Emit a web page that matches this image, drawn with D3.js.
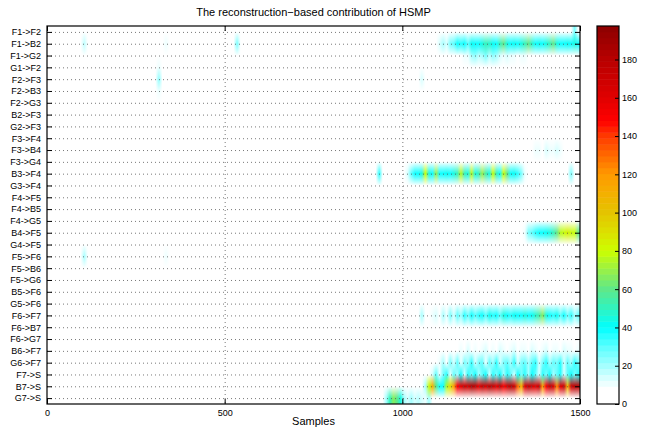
<!DOCTYPE html>
<html>
<head>
<meta charset="utf-8">
<script src="https://cdn.jsdelivr.net/npm/d3@7"></script>
<style>
  body { margin: 0; background: #fff; }
  svg { display: block; }
  text { font-family: "Liberation Sans", Arial, sans-serif; fill: #000; }
</style>
</head>
<body>
<script>
// row labels, top to bottom
const rowLabels = [
  'F1->F2', 'F1->B2', 'F1->G2', 'G1->F2', 'F2->F3', 'F2->B3', 'F2->G3', 'B2->F3',
  'G2->F3', 'F3->F4', 'F3->B4', 'F3->G4', 'B3->F4', 'G3->F4', 'F4->F5', 'F4->B5',
  'F4->G5', 'B4->F5', 'G4->F5', 'F5->F6', 'F5->B6', 'F5->G6', 'B5->F6', 'G5->F6',
  'F6->F7', 'F6->B7', 'F6->G7', 'B6->F7', 'G6->F7', 'F7->S', 'B7->S', 'G7->S'
];
const xTicks = [0, 500, 1000, 1500];
const cbTicks = [0, 20, 40, 60, 80, 100, 120, 140, 160, 180];
const binSize = 10;   // samples per value below
const vMax = 197.5;

// contributions, one value per 10 samples from the start sample
const f1b2 = [8, 15, 20, 15, 25, 30, 40, 35, 40, 30, 42, 38, 40, 45, 50, 48, 42, 40, 50, 60,
  45, 40, 42, 38, 45, 50, 60, 48, 40, 42, 38, 45, 50, 60, 45, 40, 38, 42, 40, 45, 40];
const f1g2 = [5, 8, 10, 12, 20, 22, 18, 20, 25, 18, 22, 20, 15, 12, 15, 10, 12, 8, 12, 10, 8, 5, 8, 6, 4];
const b3f4 = [15, 30, 40, 38, 45, 80, 45, 40, 70, 40, 38, 42, 40, 45, 50, 75, 50, 45, 75, 45,
  50, 70, 55, 45, 80, 50, 40, 80, 60, 40, 42, 35, 25, 10];
const f3b4 = [6, 10, 12, 8, 14, 10, 12, 15, 10, 8];
const b4f5 = [10, 25, 30, 35, 40, 38, 42, 45, 50, 60, 75, 80, 85, 80, 78, 60];
const f6f7 = [20, 5, 0, 10, 15, 5, 20, 10, 25, 15, 30, 20, 35, 25, 40, 30, 35, 40, 30, 42,
  35, 38, 30, 45, 40, 35, 42, 38, 40, 45, 40, 42, 48, 55, 65, 45, 40, 35, 42, 30, 38, 25, 35, 20, 30];
const b6f7 = [8, 12, 5, 15, 8, 12, 5, 10, 15, 8, 12, 5, 15, 10, 8, 12, 15, 5, 10, 12,
  8, 15, 10, 5, 12, 15, 8, 10, 12, 5, 15, 10, 12, 8, 10];
const g6f7 = [10, 20, 5, 25, 15, 30, 10, 25, 20, 35, 15, 25, 30, 10, 28, 20, 35, 15, 25, 30,
  20, 35, 15, 25, 30, 20, 30, 35, 15, 25, 35, 20, 30, 25, 35, 15, 30, 20, 35, 25];
const f7s = [15, 30, 10, 25, 35, 10, 30, 20, 40, 15, 35, 25, 40, 20, 30, 38, 15, 35, 25, 40,
  20, 35, 30, 15, 38, 25, 35, 20, 40, 30, 15, 35, 25, 40, 20, 30, 35, 15, 30, 40, 25, 35];
const b7s = [20, 80, 110, 60, 40, 38, 75, 90, 120, 150, 160, 170, 165, 185, 175, 160, 175, 165, 180, 170,
  160, 175, 150, 165, 180, 170, 130, 110, 160, 175, 165, 160, 175, 120, 150, 170, 165, 125, 160, 170,
  110, 165, 180, 175];
const g7s = [20, 50, 65, 60, 45, 20, 15, 20, 15, 18, 15, 10, 20, 8];

// isolated short spikes: [row, sample, value]
const spikes = [
  ['F1->F2', 1480, 25], ['F1->B2', 45, 6], ['F1->B2', 100, 18], ['F1->B2', 330, 10],
  ['F1->B2', 530, 25], ['F1->B2', 680, 8], ['F2->F3', 30, 6], ['F2->F3', 310, 22],
  ['G1->F2', 310, 10], ['F2->B3', 310, 10], ['F2->F3', 1050, 15], ['B3->F4', 90, 6],
  ['B3->F4', 510, 8], ['B3->F4', 930, 35], ['B3->F4', 1470, 25], ['B4->F5', 160, 5],
  ['F5->F6', 45, 6], ['F5->F6', 100, 20], ['F5->F6', 330, 10], ['F6->F7', 200, 6]
];

const bands = [
  ['F1->B2', 1090, f1b2], ['F1->G2', 1150, f1g2], ['B3->F4', 1010, b3f4],
  ['F3->B4', 1360, f3b4], ['B4->F5', 1340, b4f5], ['F6->F7', 1050, f6f7],
  ['B6->F7', 1150, b6f7], ['G6->F7', 1100, g6f7], ['F7->S', 1080, f7s],
  ['B7->S', 1060, b7s], ['G7->S', 950, g7s]
];

const width = 649, height = 429;
const x = d3.scaleLinear().domain([0, 1500]).range([47, 580]);
const y = d3.scaleLinear().domain([-0.5, rowLabels.length - 0.5]).range([26, 404]);
const cy = d3.scaleLinear().domain([0, vMax]).range([404, 26]);

// white-to-jet like colour map, 64 levels
const stops = d3.scaleLinear()
  .domain([0, 8, 12, 20, 30, 40, 50, 60, 70, 80, 90, 100, 110, 120, 130, 140, 148, 160, 180, 197.5])
  .range(['#ffffff', '#ffffff', '#e6ffff', '#a6ffff', '#5cffff', '#00ffff', '#30f4c0', '#5ee88a',
    '#98f048', '#ccff00', '#dce000', '#e4c400', '#f4b000', '#ff9a00', '#ff6a00', '#ff3a00',
    '#ff0000', '#e00000', '#b80000', '#8c0000'])
  .interpolate(d3.interpolateRgb);
const nLevels = 64;
function colorOf(v) {
  const lev = Math.max(0, Math.min(nLevels - 1, Math.floor(v / vMax * nLevels)));
  return stops((lev + 0.5) / nLevels * vMax);
}

// value grid
const nBins = 1500 / binSize;
const grid = rowLabels.map(() => new Array(nBins).fill(0));
bands.forEach(([lab, start, vals]) => {
  const r = rowLabels.indexOf(lab);
  vals.forEach((v, i) => { grid[r][start / binSize + i] = v; });
});
spikes.forEach(([lab, s, v]) => {
  const r = rowLabels.indexOf(lab);
  const b = Math.floor(s / binSize);
  grid[r][b] = Math.max(grid[r][b], v);
});
const rgb = grid.map(row => row.map(v => d3.rgb(colorOf(v))));

const svg = d3.select('body').append('svg')
  .attr('width', width)
  .attr('height', height);

// heat map image, colours blended between rows and between bins
const x0 = x.range()[0], y0 = y.range()[0];
const pw = Math.round(x.range()[1] - x0), ph = Math.round(y.range()[1] - y0);
const canvas = document.createElement('canvas');
canvas.width = pw; canvas.height = ph;
const ctx = canvas.getContext('2d');
const img = ctx.createImageData(pw, ph);
const nRows = rowLabels.length;
function rowColor(r, fb) {
  let b0 = Math.floor(fb), t = fb - b0;
  if (b0 < 0) { b0 = 0; t = 0; }
  if (b0 >= nBins - 1) { b0 = nBins - 1; t = 0; }
  const a = rgb[r][b0], c = rgb[r][Math.min(nBins - 1, b0 + 1)];
  return [a.r + (c.r - a.r) * t, a.g + (c.g - a.g) * t, a.b + (c.b - a.b) * t];
}
for (let px = 0; px < pw; px++) {
  const s = x.invert(x0 + px + 0.5);
  const fb = s / binSize - 0.5;
  const cols = [];
  for (let r = 0; r < nRows; r++) cols.push(rowColor(r, fb));
  for (let py = 0; py < ph; py++) {
    let fr = y.invert(y0 + py + 0.5);
    fr = Math.max(0, Math.min(nRows - 1, fr));
    const r0 = Math.min(nRows - 2, Math.floor(fr)), t = fr - r0;
    const a = cols[r0], c = cols[r0 + 1];
    const k = (py * pw + px) * 4;
    img.data[k] = a[0] + (c[0] - a[0]) * t;
    img.data[k + 1] = a[1] + (c[1] - a[1]) * t;
    img.data[k + 2] = a[2] + (c[2] - a[2]) * t;
    img.data[k + 3] = 255;
  }
}
ctx.putImageData(img, 0, 0);
svg.append('image')
  .attr('x', x0).attr('y', y0)
  .attr('width', pw).attr('height', ph)
  .attr('preserveAspectRatio', 'none')
  .attr('href', canvas.toDataURL());

// dotted grid
const gridG = svg.append('g')
  .attr('stroke', '#555')
  .attr('stroke-width', 0.8)
  .attr('stroke-dasharray', '1,3');
gridG.selectAll('line.h').data(d3.range(nRows)).enter()
  .append('line')
  .attr('x1', x0).attr('x2', x.range()[1])
  .attr('y1', d => y(d) + 0.5).attr('y2', d => y(d) + 0.5);
gridG.selectAll('line.v').data([500, 1000]).enter()
  .append('line')
  .attr('x1', d => x(d) + 0.5).attr('x2', d => x(d) + 0.5)
  .attr('y1', y0).attr('y2', y.range()[1]);

// axes
const axLeft = svg.append('g').attr('transform', `translate(${x0},0)`)
  .call(d3.axisLeft(y).tickValues(d3.range(nRows)).tickFormat(i => rowLabels[i])
    .tickSize(-5).tickPadding(6));
const axRight = svg.append('g').attr('transform', `translate(${x.range()[1]},0)`)
  .call(d3.axisRight(y).tickValues(d3.range(nRows)).tickFormat('').tickSize(-5));
const axBottom = svg.append('g').attr('transform', `translate(0,${y.range()[1]})`)
  .call(d3.axisBottom(x).tickValues(xTicks).tickFormat(d3.format('d')).tickSize(-5).tickPadding(6));
const axTop = svg.append('g').attr('transform', `translate(0,${y0})`)
  .call(d3.axisTop(x).tickValues(xTicks).tickFormat('').tickSize(-5));
[axLeft, axRight, axBottom, axTop].forEach(g => {
  g.select('.domain').remove();
  g.selectAll('text').style('font-size', '9px').style('font-family', '"Liberation Sans", Arial, sans-serif');
  g.selectAll('line').attr('stroke', '#000');
});

svg.append('rect')
  .attr('x', x0).attr('y', y0)
  .attr('width', pw).attr('height', ph)
  .attr('fill', 'none').attr('stroke', '#000').attr('stroke-width', 1.2);

// colorbar
const cbX = 597, cbW = 22;
const levels = d3.range(nLevels);
svg.append('g').selectAll('rect').data(levels).enter()
  .append('rect')
  .attr('x', cbX)
  .attr('y', d => cy((d + 1) / nLevels * vMax))
  .attr('width', cbW)
  .attr('height', d => cy(d / nLevels * vMax) - cy((d + 1) / nLevels * vMax) + 0.5)
  .attr('fill', d => stops((d + 0.5) / nLevels * vMax));
const cb = svg.append('g').attr('transform', `translate(${cbX + cbW},0)`)
  .call(d3.axisRight(cy).tickValues(cbTicks).tickSize(-4).tickPadding(3));
cb.select('.domain').remove();
cb.selectAll('text').style('font-size', '9px');
cb.selectAll('line').attr('stroke', '#000');
svg.append('rect')
  .attr('x', cbX).attr('y', 26)
  .attr('width', cbW).attr('height', 378)
  .attr('fill', 'none').attr('stroke', '#000').attr('stroke-width', 1.2);

// titles
svg.append('text')
  .attr('x', (x0 + x.range()[1]) / 2).attr('y', 16)
  .attr('text-anchor', 'middle')
  .style('font-size', '11px')
  .text('The reconstruction\u2212based contribution of HSMP');
svg.append('text')
  .attr('x', (x0 + x.range()[1]) / 2).attr('y', 425)
  .attr('text-anchor', 'middle')
  .style('font-size', '11px')
  .text('Samples');
</script>
</body>
</html>
